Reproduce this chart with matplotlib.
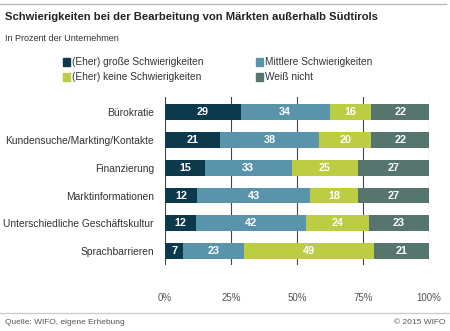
import numpy as np
import matplotlib.pyplot as plt
from matplotlib.lines import Line2D
from matplotlib.patches import Rectangle

categories = ["Bürokratie", "Kundensuche/Markting/Kontakte", "Finanzierung",
              "Marktinformationen", "Unterschiedliche Geschäftskultur", "Sprachbarrieren"]
series = ["(Eher) große Schwierigkeiten", "Mittlere Schwierigkeiten",
          "(Eher) keine Schwierigkeiten", "Weiß nicht"]
gross = [29, 21, 15, 12, 12, 7]
mittel = [34, 38, 33, 43, 42, 23]
keine = [16, 20, 25, 18, 24, 49]
weiss = [22, 22, 27, 27, 23, 21]
colors = ["#0c3a4c", "#5a94aa", "#bccd43", "#56756f"]
xticks = [0, 25, 50, 75, 100]

plt.rcParams["font.family"] = ["Liberation Sans", "DejaVu Sans"]

vals = np.array([gross, mittel, keine, weiss], dtype=float)
share = vals / vals.sum(axis=0) * 100

fig = plt.figure(figsize=(4.5, 3.31), dpi=100)
ax = fig.add_axes([0.3667, 0.199, 0.5866, 0.508])

y = np.arange(len(categories))
left = np.zeros(len(categories))
for i in range(4):
    ax.barh(y, share[i], left=left, height=0.57, color=colors[i], zorder=3)
    for j in range(len(categories)):
        ax.text(left[j] + share[i][j] / 2, y[j], "%d" % vals[i][j], ha="center", va="center",
                color="white", fontsize=7.8, fontweight="bold", zorder=4)
    left += share[i]

ax.set_xlim(0, 100)
ax.set_ylim(5.5, -0.54)
ax.set_xticks(xticks)
ax.set_xticklabels(["%d%%" % t for t in xticks])
ax.set_yticks(y)
ax.set_yticklabels(categories)
ax.tick_params(axis="x", length=0, pad=20, labelsize=7, colors="#555555")
ax.tick_params(axis="y", length=0, pad=8, labelsize=7.4, colors="#333333")
ax.grid(axis="x", color="#444444", linewidth=0.8, zorder=0)
for s in ax.spines.values():
    s.set_visible(False)

# Titel, Legende, Fusszeile
fig.add_artist(Line2D([0, 0.99], [0.988, 0.988], color="#bbbbbb", linewidth=1))
fig.text(0.011, 0.948, "Schwierigkeiten bei der Bearbeitung von Märkten außerhalb Südtirols",
         fontsize=8.1, fontweight="bold", color="#222222", va="center")
fig.text(0.011, 0.885, "In Prozent der Unternehmen", fontsize=6.5, color="#333333", va="center")

leg_pos = [(0.14, 0.812), (0.568, 0.812), (0.14, 0.767), (0.568, 0.767)]
for (lx, ly), name, c in zip(leg_pos, series, colors):
    fig.add_artist(Rectangle((lx, ly - 0.012), 0.016, 0.024, color=c, transform=fig.transFigure))
    fig.text(lx + 0.02, ly, name, fontsize=7.3, color="#333333", va="center")

fig.add_artist(Line2D([0, 1], [0.054, 0.054], color="#cccccc", linewidth=1))
fig.text(0.011, 0.027, "Quelle: WIFO, eigene Erhebung", fontsize=6, color="#555555", va="center")
fig.text(0.989, 0.027, "© 2015 WIFO", fontsize=6, color="#555555", va="center", ha="right")

fig.savefig("out.png", dpi=100)
